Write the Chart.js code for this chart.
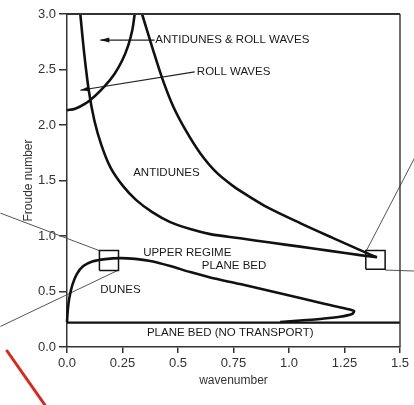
<!DOCTYPE html>
<html>
<head>
<meta charset="utf-8">
<script src="https://cdn.jsdelivr.net/npm/chart.js@4.4.1/dist/chart.umd.min.js"></script>
<style>
  body { margin: 0; background: #fff; }
  canvas { display: block; }
</style>
</head>
<body>
<canvas id="chart" width="414" height="405"></canvas>
<script>
// tick labels
const xTickLabels = ["0.0", "0.25", "0.5", "0.75", "1.0", "1.25", "1.5"];
const yTickLabels = ["0.0", "0.5", "1.0", "1.5", "2.0", "2.5", "3.0"];

// lower boundary of antidunes (from top left to the meeting point)
const antiduneLowX = [0.060, 0.076, 0.098, 0.123, 0.155, 0.195, 0.249, 0.312, 0.384, 0.465, 0.555, 0.645, 0.780, 0.915, 1.050, 1.185, 1.320, 1.396];
const antiduneLowY = [3.0, 2.673, 2.313, 2.043, 1.818, 1.620, 1.458, 1.323, 1.215, 1.125, 1.062, 1.017, 0.979, 0.941, 0.904, 0.866, 0.828, 0.808];

// upper boundary of antidunes (from top cusp to the meeting point)
const antiduneHighX = [0.338, 0.384, 0.429, 0.478, 0.537, 0.600, 0.672, 0.749, 0.825, 0.901, 1.050, 1.199, 1.351, 1.396];
const antiduneHighY = [3.0, 2.70, 2.42, 2.169, 1.944, 1.746, 1.575, 1.449, 1.350, 1.260, 1.116, 0.981, 0.846, 0.808];

// roll waves curve
const rollWaveX = [0.0, 0.037, 0.082, 0.127, 0.172, 0.213, 0.249, 0.276, 0.294, 0.305];
const rollWaveY = [2.133, 2.147, 2.192, 2.264, 2.354, 2.457, 2.583, 2.718, 2.853, 3.0];

// dunes boundary
const duneX = [0.0, 0.0036, 0.0104, 0.0239, 0.0441, 0.0734, 0.114, 0.172, 0.240, 0.307, 0.375, 0.465, 0.555, 0.645, 0.780, 0.915, 1.050, 1.163, 1.253, 1.293, 1.284, 1.230, 1.140, 1.050, 0.960];
const duneY = [0.225, 0.333, 0.441, 0.558, 0.657, 0.729, 0.770, 0.792, 0.801, 0.794, 0.774, 0.729, 0.675, 0.626, 0.567, 0.504, 0.441, 0.387, 0.347, 0.324, 0.297, 0.272, 0.252, 0.239, 0.225];

// no transport threshold
const noTransportX = [0.0, 1.5];
const noTransportY = [0.22, 0.22];

// callout boxes
const boxLeftX = [0.146, 0.232, 0.232, 0.146, 0.146];
const boxLeftY = [0.69, 0.69, 0.87, 0.87, 0.69];
const boxRightX = [1.346, 1.433, 1.433, 1.346, 1.346];
const boxRightY = [0.70, 0.70, 0.87, 0.87, 0.70];

// region labels
const regionLabels = ["ANTIDUNES & ROLL WAVES", "ROLL WAVES", "ANTIDUNES", "UPPER REGIME", "PLANE BED", "DUNES", "PLANE BED (NO TRANSPORT)"];

function pts(xs, ys) {
  return xs.map((x, i) => ({ x: x, y: ys[i] }));
}

function curve(xs, ys, width, tension) {
  return {
    data: pts(xs, ys),
    showLine: true,
    borderColor: "#111",
    borderWidth: width,
    pointRadius: 0,
    tension: tension === undefined ? 0.35 : tension,
    fill: false,
    clip: false,
  };
}

function leader(points, color, width) {
  return {
    data: points,
    showLine: true,
    borderColor: color || "#555",
    borderWidth: width || 1,
    pointRadius: 0,
    tension: 0,
    clip: false,
  };
}

const datasets = [
  curve(antiduneLowX, antiduneLowY, 2.6),
  curve(antiduneHighX, antiduneHighY, 2.6),
  curve(rollWaveX, rollWaveY, 2.6),
  curve(duneX, duneY, 2.6, 0.3),
  curve(noTransportX, noTransportY, 2.4, 0),
  curve(boxLeftX, boxLeftY, 1.5, 0),
  curve(boxRightX, boxRightY, 1.5, 0),
  // callout leaders
  leader([{ x: -0.30, y: 1.206 }, { x: 0.147, y: 0.867 }]),
  leader([{ x: 0.232, y: 0.693 }, { x: -0.30, y: 0.185 }]),
  leader([{ x: 1.35, y: 0.873 }, { x: 1.572, y: 1.728 }]),
  leader([{ x: 1.433, y: 0.693 }, { x: 1.572, y: 0.684 }]),
  // label arrows
  leader([{ x: 0.15, y: 2.765 }, { x: 0.395, y: 2.765 }], "#222", 1.2),
  leader([{ x: 0.06, y: 2.313 }, { x: 0.575, y: 2.478 }], "#222", 1.2),
  // red mark at bottom left
  leader([{ x: -0.273, y: -0.027 }, { x: -0.084, y: -0.567 }], "#d42a22", 3),
];

const labelAnchors = [
  [0.398, 2.763], [0.585, 2.475], [0.298, 1.57], [0.343, 0.85],
  [0.607, 0.73], [0.15, 0.513], [0.36, 0.126],
];

const decorations = {
  id: "decorations",
  afterDatasetsDraw(chart) {
    const { ctx, chartArea, scales } = chart;
    const sx = scales.x, sy = scales.y;
    ctx.save();
    // top and right frame
    ctx.strokeStyle = "#333";
    ctx.lineWidth = 2;
    ctx.beginPath();
    ctx.moveTo(chartArea.left, chartArea.top);
    ctx.lineTo(chartArea.right, chartArea.top);
    ctx.stroke();
    ctx.lineWidth = 1.4;
    ctx.beginPath();
    ctx.moveTo(chartArea.right, chartArea.top);
    ctx.lineTo(chartArea.right, chartArea.bottom);
    ctx.stroke();

    // arrow heads on the two label pointers
    ctx.fillStyle = "#111";
    [11, 12].forEach((di) => {
      const d = chart.data.datasets[di].data;
      const x0 = sx.getPixelForValue(d[0].x), y0 = sy.getPixelForValue(d[0].y);
      const x1 = sx.getPixelForValue(d[1].x), y1 = sy.getPixelForValue(d[1].y);
      const a = Math.atan2(y1 - y0, x1 - x0);
      const len = 9, half = 2.5;
      ctx.beginPath();
      ctx.moveTo(x0, y0);
      ctx.lineTo(x0 + len * Math.cos(a) - half * Math.sin(a), y0 + len * Math.sin(a) + half * Math.cos(a));
      ctx.lineTo(x0 + len * Math.cos(a) + half * Math.sin(a), y0 + len * Math.sin(a) - half * Math.cos(a));
      ctx.closePath();
      ctx.fill();
    });

    // region labels
    ctx.font = "11.5px 'Liberation Sans', Arial, sans-serif";
    ctx.fillStyle = "#1a1a1a";
    ctx.textAlign = "left";
    ctx.textBaseline = "middle";
    regionLabels.forEach((t, i) => {
      const [x, y] = labelAnchors[i];
      ctx.fillText(t, sx.getPixelForValue(x), sy.getPixelForValue(y));
    });
    ctx.restore();
  },
};

new Chart(document.getElementById("chart"), {
  type: "scatter",
  data: { datasets: datasets },
  options: {
    responsive: false,
    animation: false,
    devicePixelRatio: 1,
    layout: { padding: { top: 14, right: 14, left: 0, bottom: 0 } },
    plugins: { legend: { display: false }, tooltip: { enabled: false } },
    scales: {
      x: {
        type: "linear",
        min: 0,
        max: 1.5,
        afterFit: (s) => { s.height = 58; },
        border: { display: true, color: "#333", width: 1.5 },
        grid: { drawOnChartArea: false, drawTicks: true, tickLength: 6, color: "#333", lineWidth: 1.5 },
        ticks: {
          stepSize: 0.25,
          padding: 3,
          color: "#333",
          font: { family: "'Liberation Sans', Arial, sans-serif", size: 13 },
          maxRotation: 0,
          callback: (v) => xTickLabels[Math.round(v / 0.25)],
        },
        title: {
          display: true,
          text: "wavenumber",
          color: "#333",
          font: { family: "'Liberation Sans', Arial, sans-serif", size: 12 },
          padding: { top: 0, bottom: 17 },
        },
      },
      y: {
        type: "linear",
        min: 0,
        max: 3,
        afterFit: (s) => { s.width = 67; },
        border: { display: true, color: "#333", width: 1.5 },
        grid: { drawOnChartArea: false, drawTicks: true, tickLength: 8, color: "#333", lineWidth: 1.5 },
        ticks: {
          stepSize: 0.5,
          padding: 3,
          color: "#333",
          font: { family: "'Liberation Sans', Arial, sans-serif", size: 13 },
          callback: (v) => yTickLabels[Math.round(v / 0.5)],
        },
        title: {
          display: true,
          text: "Froude number",
          color: "#333",
          font: { family: "'Liberation Sans', Arial, sans-serif", size: 12 },
          padding: { top: 21, bottom: 0 },
        },
      },
    },
  },
  plugins: [decorations],
});
</script>
</body>
</html>
